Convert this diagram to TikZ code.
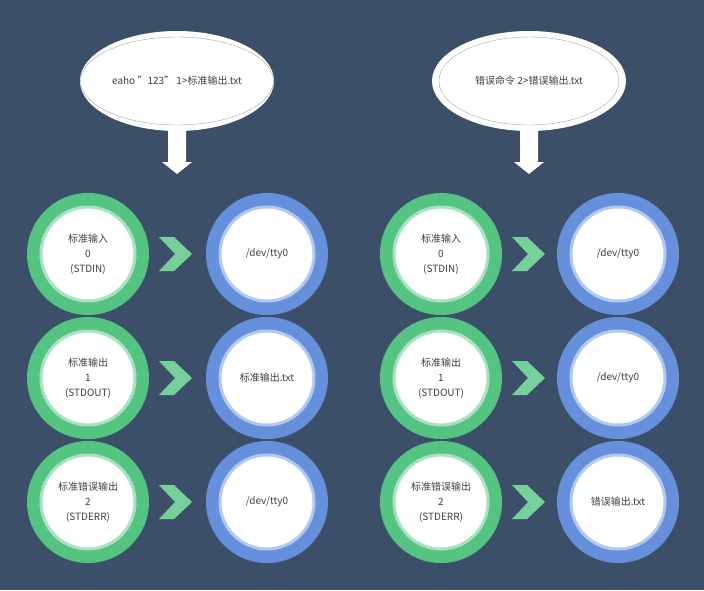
\documentclass[tikz,border=0pt]{standalone}
\usepackage{fontspec}
\setmainfont{Noto Sans CJK SC}
\usetikzlibrary{positioning, arrows.meta, shapes.geometric}
\definecolor{bg}{HTML}{3B5068}
\definecolor{grn}{HTML}{55C483}
\definecolor{grnl}{HTML}{A9E2C0}
\definecolor{blu}{HTML}{6690DC}
\definecolor{blul}{HTML}{B3C8F0}
\definecolor{txt}{HTML}{404040}
\tikzset{%
	ring/.style = {circle, minimum size = 122pt, inner sep = 0pt, fill = #1},
	face/.style = {circle, minimum size = 94pt, inner sep = 0pt, fill = white, draw = #1, line width = 3pt, align = center, text = txt, font = \fontsize{10}{15}\selectfont},
	bubble/.style = {ellipse, minimum width = 194pt, minimum height = 100pt, fill = white},
	inbubble/.style = {ellipse, minimum width = 180pt, minimum height = 88pt, draw = gray!70, text = txt, font = \fontsize{10}{12}\selectfont},
	chev/.style = {fill = grn!80!white}
}
\newcommand{\chevat}[1]{\fill[chev] (#1) ++(-17,-17) -- ++(15,0) -- ++(18,17) -- ++(-18,17) -- ++(-15,0) -- ++(16,-17) -- cycle;}
\newcommand{\downat}[1]{\fill[white] (#1) ++(-9,0) -- ++(0,32) -- ++(-6,0) -- ++(15,12) -- ++(15,-12) -- ++(-6,0) -- ++(0,-32) -- cycle;}
\begin{document}
\begin{tikzpicture}[x=1pt, y=-1pt]
	\fill[bg] (0,0) rectangle (704,590);
	% bubbles
	\node [bubble] (bl) at (177,81) {};
	\node [inbubble] (bli) at (177,81) {eaho "123" 1>标准输出.txt};
	\node [bubble] (br) at (529,81) {};
	\node [inbubble] (bri) at (529,81) {错误命令 2>错误输出.txt};
	\coordinate (al) at (177,130);
	\coordinate (ar) at (529,130);
	\downat{al}
	\downat{ar}
	% left block
	\foreach \y/\n/\t/\d in {254/in/标准输入\\0\\(STDIN)/{/dev/tty0}, 378/out/标准输出\\1\\(STDOUT)/标准输出.txt, 502/err/标准错误输出\\2\\(STDERR)/{/dev/tty0}} {
		\node [ring = grn] (lg\n) at (88,\y) {};
		\node [face = grnl] at (lg\n) {\t};
		\node [ring = blu] (lb\n) at (267,\y) {};
		\node [face = blul] at (lb\n) {\d};
		\coordinate (lc\n) at (176,\y);
		\chevat{lc\n}
	}
	% right block
	\foreach \y/\n/\t/\d in {254/in/标准输入\\0\\(STDIN)/{/dev/tty0}, 378/out/标准输出\\1\\(STDOUT)/{/dev/tty0}, 502/err/标准错误输出\\2\\(STDERR)/错误输出.txt} {
		\node [ring = grn] (rg\n) at (441,\y) {};
		\node [face = grnl] at (rg\n) {\t};
		\node [ring = blu] (rb\n) at (618,\y) {};
		\node [face = blul] at (rb\n) {\d};
		\coordinate (rc\n) at (529,\y);
		\chevat{rc\n}
	}
\end{tikzpicture}
\end{document}
